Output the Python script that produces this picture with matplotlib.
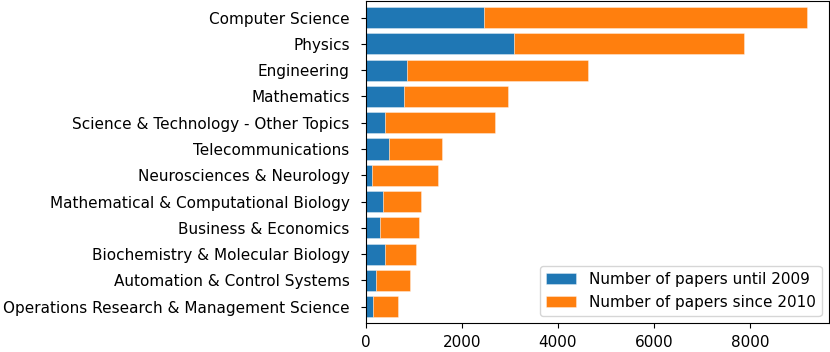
import numpy as np
import matplotlib.pyplot as plt

categories = [
    "Computer Science",
    "Physics",
    "Engineering",
    "Mathematics",
    "Science & Technology - Other Topics",
    "Telecommunications",
    "Neurosciences & Neurology",
    "Mathematical & Computational Biology",
    "Business & Economics",
    "Biochemistry & Molecular Biology",
    "Automation & Control Systems",
    "Operations Research & Management Science",
]
until_2009 = [2460, 3090, 855, 800, 400, 490, 140, 355, 300, 400, 210, 160]
since_2010 = [6730, 4790, 3780, 2160, 2290, 1105, 1360, 805, 820, 650, 710, 520]

fig = plt.figure(figsize=(8.3, 3.52), dpi=100)
ax = fig.add_axes([0.4406, 0.0815, 0.5584, 0.9165])

y = np.arange(len(categories))
edge = (1, 1, 1, 0.35)
ax.barh(y, until_2009, height=0.8, color="#1f77b4", edgecolor=edge, linewidth=0.7,
        label="Number of papers until 2009")
ax.barh(y, since_2010, height=0.8, left=until_2009, color="#ff7f0e", edgecolor=edge,
        linewidth=0.7, label="Number of papers since 2010")
ax.set_yticks(y)
ax.set_yticklabels(categories, fontsize=11)
ax.set_ylim(11.63, -0.64)
ax.tick_params(axis="y", pad=8)
ax.tick_params(axis="x", labelsize=11, pad=5)
ax.legend(loc="lower right", fontsize=11)

fig.savefig("out.png")
